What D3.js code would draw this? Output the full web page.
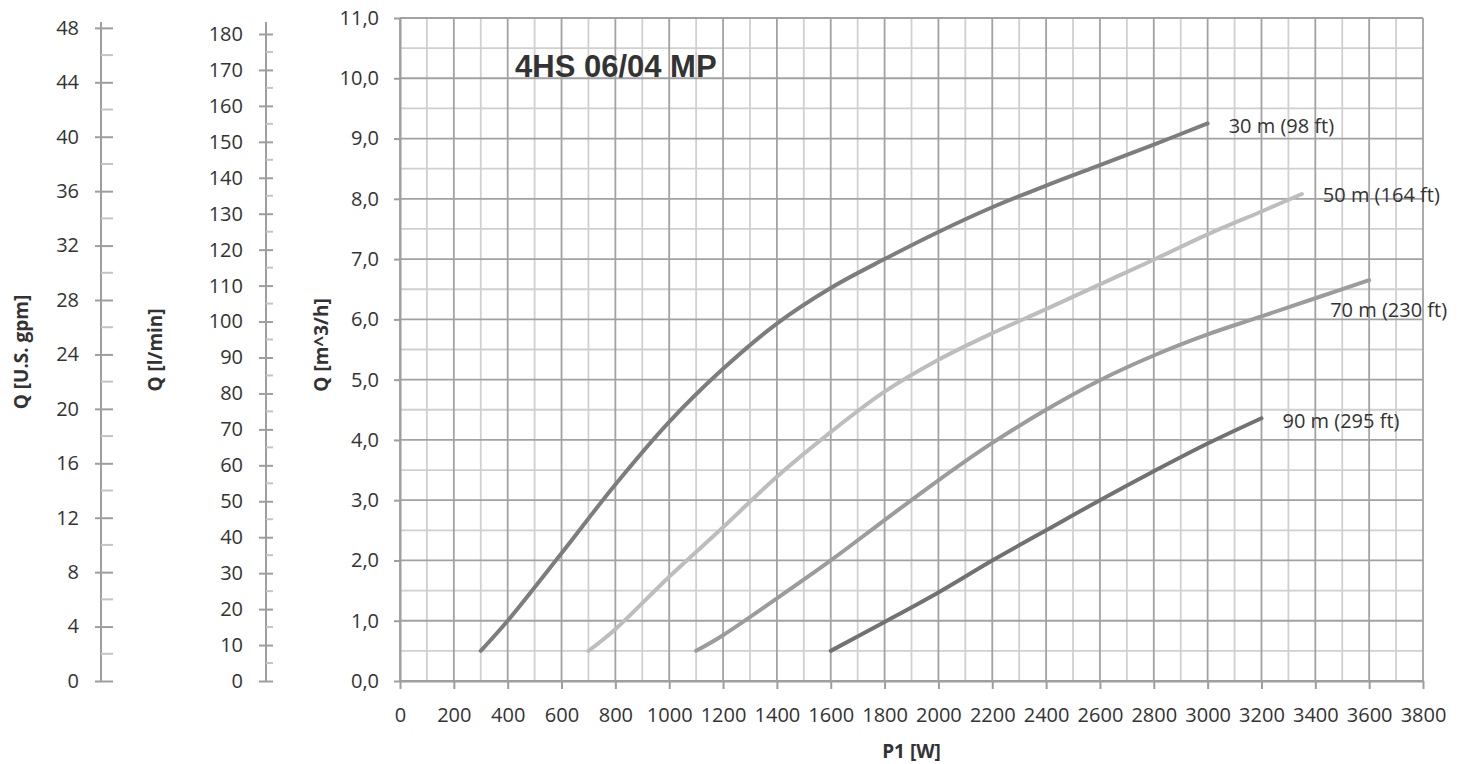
<!DOCTYPE html>
<html>
<head>
<meta charset="utf-8">
<script src="https://cdn.jsdelivr.net/npm/d3@7"></script>
<style>
  body { margin: 0; background: #fff; }
  text { font-family: "Open Sans", sans-serif; fill: #333; }
</style>
</head>
<body>
<script>
// curve data: [P1 in W, Q in m^3/h]
const head30 = [[300,0.5],[400,1.0],[600,2.12],[800,3.26],[1000,4.3],[1200,5.18],[1400,5.93],[1600,6.52],[1800,7.0],[2000,7.45],[2200,7.86],[2400,8.22],[2600,8.56],[2800,8.9],[3000,9.25]];
const head50 = [[700,0.5],[800,0.86],[1000,1.73],[1200,2.55],[1400,3.39],[1600,4.13],[1800,4.8],[2000,5.33],[2200,5.77],[2400,6.17],[2600,6.58],[2800,6.99],[3000,7.41],[3200,7.79],[3350,8.08]];
const head70 = [[1100,0.5],[1200,0.76],[1400,1.37],[1600,2.0],[1800,2.67],[2000,3.33],[2200,3.95],[2400,4.5],[2600,4.99],[2800,5.4],[3000,5.75],[3200,6.05],[3400,6.35],[3600,6.65]];
const head90 = [[1600,0.5],[1800,0.98],[2000,1.47],[2200,2.0],[2400,2.5],[2600,3.0],[2800,3.48],[3000,3.94],[3200,4.36]];
const seriesNames = ["30 m (98 ft)", "50 m (164 ft)", "70 m (230 ft)", "90 m (295 ft)"];

const xTicks = [0,200,400,600,800,1000,1200,1400,1600,1800,2000,2200,2400,2600,2800,3000,3200,3400,3600,3800];
const yTicks = [0,1,2,3,4,5,6,7,8,9,10,11];
const lminTicks = [0,10,20,30,40,50,60,70,80,90,100,110,120,130,140,150,160,170,180];
const gpmTicks = [0,4,8,12,16,20,24,28,32,36,40,44,48];
const chartTitle = "4HS 06/04 MP";

var width = 1465, height = 764;
var svg = d3.select("body").append("svg").attr("width", width).attr("height", height);

var x = d3.scaleLinear().domain([0, 3800]).range([400, 1423]);
var y = d3.scaleLinear().domain([0, 11]).range([681, 18]);
// secondary flow units, same top as the m^3/h axis
var yL = d3.scaleLinear().domain([0, 11 * 1000 / 60]).range([681, 22]);
var yG = d3.scaleLinear().domain([0, 11 * 4.402868]).range([681, 22]);

// minor grid, every 100 W and 0.5 m^3/h
var xMinor = xTicks.slice(0, -1).map(d => d + 100);
var yMinor = yTicks.slice(0, -1).map(d => d + 0.5);
var grid = svg.append("g");
grid.selectAll(".vminor").data(xMinor).enter().append("line")
  .attr("x1", d => x(d)).attr("x2", d => x(d)).attr("y1", y(0)).attr("y2", y(11))
  .attr("stroke", "#d0d0d0").attr("stroke-width", 1.8);
grid.selectAll(".hminor").data(yMinor).enter().append("line")
  .attr("x1", x(0)).attr("x2", x(3800)).attr("y1", d => y(d)).attr("y2", d => y(d))
  .attr("stroke", "#d0d0d0").attr("stroke-width", 1.8);
grid.selectAll(".vmajor").data(xTicks).enter().append("line")
  .attr("x1", d => x(d)).attr("x2", d => x(d)).attr("y1", y(0)).attr("y2", y(11))
  .attr("stroke", "#a2a2a2").attr("stroke-width", 1.8);
grid.selectAll(".hmajor").data(yTicks).enter().append("line")
  .attr("x1", x(0)).attr("x2", x(3800)).attr("y1", d => y(d)).attr("y2", d => y(d))
  .attr("stroke", "#a2a2a2").attr("stroke-width", 1.8);

const styleAxis = (g) => {
  g.select(".domain").attr("stroke", "#9e9e9e").attr("stroke-width", 2);
  g.selectAll(".tick line").attr("stroke", "#9e9e9e").attr("stroke-width", 2);
  g.selectAll(".tick text").attr("font-size", 20).attr("font-family", "Open Sans").attr("fill", "#2e2e2e");
}

// main axes
var fmt = d => d.toFixed(1).replace(".", ",");
svg.append("g").attr("transform", "translate(" + x(0) + ",0)")
  .call(d3.axisLeft(y).tickValues(yTicks).tickFormat(fmt).tickSize(6).tickSizeOuter(0).tickPadding(15))
  .call(styleAxis);
svg.append("g").attr("transform", "translate(0," + y(0) + ")")
  .call(d3.axisBottom(x).tickValues(xTicks).tickFormat(d3.format("d")).tickSize(8).tickSizeOuter(0).tickPadding(19))
  .call(styleAxis);

// secondary left axes (major ticks cross the line, minor ticks on the right only)
const sideAxis = (scale, ticks, step, xPos, left, right) => {
  var g = svg.append("g").attr("transform", "translate(" + xPos + ",0)");
  g.call(d3.axisLeft(scale).tickValues(ticks).tickSize(left).tickSizeOuter(0).tickPadding(16)).call(styleAxis);
  g.selectAll(".tick line").attr("x1", right);
  g.select(".domain").attr("d", "M0," + scale.range()[0] + "V" + scale.range()[1]);
  var minors = ticks.map(d => d + step / 2).filter(d => d < scale.domain()[1]);
  g.selectAll(".minor").data(minors).enter().append("line")
    .attr("x1", 0).attr("x2", right).attr("y1", d => scale(d)).attr("y2", d => scale(d))
    .attr("stroke", "#c4c4c4").attr("stroke-width", 2);
}
sideAxis(yG, gpmTicks, 4, 101, 6, 12);
sideAxis(yL, lminTicks, 10, 266, 7, 7);

// axis titles
const axisTitle = (txt, tx, ty, rot) => {
  svg.append("text").attr("transform", "translate(" + tx + "," + ty + ")" + (rot ? " rotate(-90)" : ""))
    .attr("text-anchor", "middle").attr("font-weight", "bold").attr("font-size", 19).text(txt);
}
axisTitle("Q [U.S. gpm]", 28, 352, true);
axisTitle("Q [l/min]", 162, 350, true);
axisTitle("Q [m^3/h]", 328, 345, true);
axisTitle("P1 [W]", (x(0) + x(3800)) / 2, 758, false);

// chart title
svg.append("text").attr("x", 515).attr("y", 77)
  .style("font-family", "'Liberation Sans', Arial, sans-serif").attr("font-weight", "bold")
  .attr("font-size", 31).attr("fill", "#111").text(chartTitle);

// curves
var allSeries = [head30, head50, head70, head90];
var color = ["#7d7d7d", "#bdbdbd", "#9c9c9c", "#727272"];
var line = d3.line().x(d => x(d[0])).y(d => y(d[1])).curve(d3.curveCatmullRom.alpha(0.5));
svg.append("g").selectAll("path").data(allSeries).enter().append("path")
  .attr("d", line).attr("fill", "none")
  .attr("stroke", (d, i) => color[i]).attr("stroke-width", 4).attr("stroke-linecap", "round");

// end labels
var labelOffset = [[21, 3], [21, 1], [-39, 30], [21, 3]];
svg.append("g").selectAll("text").data(allSeries).enter().append("text")
  .attr("x", (d, i) => x(d[d.length - 1][0]) + labelOffset[i][0])
  .attr("y", (d, i) => y(d[d.length - 1][1]) + labelOffset[i][1])
  .attr("dy", "0.35em").attr("font-size", 20).attr("fill", "#2e2e2e")
  .text((d, i) => seriesNames[i]);
</script>
</body>
</html>
